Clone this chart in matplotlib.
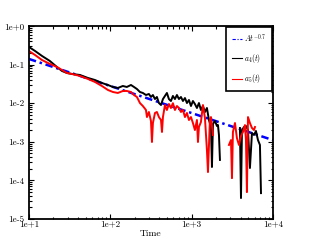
import numpy as np
import matplotlib
matplotlib.use("Agg")
import matplotlib.pyplot as plt
from matplotlib.ticker import FuncFormatter, LogLocator

plt.rcParams["font.family"] = ["cmr10", "DejaVu Serif"]
plt.rcParams["mathtext.fontset"] = "cm"
plt.rcParams["axes.formatter.use_mathtext"] = True

# ---- data ----
t4 = [10, 11.9, 14.5, 18.1, 22.1, 25.5, 29.3, 33.8, 42.4, 53.2, 64.8, 79, 93.7, 108, 124,
      143, 160, 180, 196, 213, 232, 252, 275, 299, 317, 335, 355, 375, 397, 421, 445, 471,
      498, 527, 558, 590, 625, 661, 700, 741, 784, 830, 878, 929, 984, 1040, 1100, 1165,
      1233, 1305, 1381, 1462, 1546, 1637, 1733, 1782, 1833, 1940, 2053, 2113, 2173, 2235,
      2300, 3936, 4055, 4169, 4416, 4667, 4943, 5224, 5534, 5861, 6194, 6561, 6934, 7145]
a4 = [.286, .225, .167, .124, .0866, .0683, .0606, .0571, .0538, .0450, .0399, .0334, .0296,
      .0263, .0248, .0279, .0263, .0296, .0263, .0233, .0195, .0184, .0163, .0173, .0145,
      .0163, .0128, .0145, .0101, .00898, .0128, .0154, .0184, .0128, .0114, .0154, .0128,
      .0163, .0128, .0145, .0114, .0136, .0101, .0121, .00846, .0114, .00953, .00751, .0101,
      .00667, .00846, .00592, .00751, .00367, .00242, .000223, .00290, .00346, .00257,
      .00272, .00150, .00034, np.nan, .00228, 3.5e-5, .00202, .00242, .00257, .00202,
      .00021, .00170, .00150, .00191, .00111, .00083, 4.7e-5]

t5 = [10, 11.9, 14.5, 18.1, 22.1, 25.5, 29.3, 33.8, 42.4, 53.2, 64.8, 79, 93.7, 108, 124,
      143, 160, 180, 196, 213, 232, 252, 275, 283, 299, 317, 326, 335, 355, 375, 397, 421,
      433, 445, 471, 498, 527, 558, 590, 625, 661, 700, 741, 784, 830, 878, 929, 984, 1040,
      1100, 1165, 1199, 1233, 1305, 1381, 1462, 1546, 1592, 1683, 1733, 1833, 2300, 2884,
      3055, 3141, 3228, 3420, 3614, 3828, 4055, 4285, 4540, 4667, 4797, 4943, 5224, 5534,
      5861, 6026]
a5 = [.225, .177, .131, .104, .0866, .0725, .0606, .0571, .0507, .0424, .0355, .0279, .0220,
      .0195, .0184, .0207, .0207, .0195, .0163, .0145, .0101, .00846, .00667, .00438, .00592,
      .00346, .00099, .00307, .00558, .00592, .00438, .00367, .00180, .00438, .00898, .00667,
      .00953, .00751, .0100, .00667, .00846, .00751, .00592, .00667, .00438, .00558, .00367,
      .00438, .00307, .00202, .00367, .00099, .00242, .00326, .00898, .00414, .00061,
      .000165, .00367, .00438, .00150, np.nan, .00083, .00111, .000115, .00180, .00307,
      .00125, .00083, .00141, .00180, .00272, .00111, 5.0e-5, .00438, .00307, .00228,
      .00202, .00242]

# fit A t^-0.7 (A ~ 0.7), end points
t_fit = [10, 10000]
a_fit = [0.140, 0.00111]

fig = plt.figure(figsize=(3.14, 2.47), dpi=100)
ax = fig.add_axes([0.092, 0.113, 0.777, 0.782])

ax.plot(t_fit, a_fit, color="blue", lw=1.8, dashes=(3, 1.5, 1, 1.5), label=r"$At^{-0.7}$")
ax.plot(t4, a4, color="black", lw=1.4, label=r"$a_4(t)$")
ax.plot(t5, a5, color="red", lw=1.4, label=r"$a_5(t)$")

ax.set_xscale("log"); ax.set_yscale("log")
ax.set_xlim(10, 1e4); ax.set_ylim(1e-5, 1)
fmt = FuncFormatter(lambda v, _: "1e%+d" % int(round(np.log10(v))))
ax.xaxis.set_major_formatter(fmt); ax.yaxis.set_major_formatter(fmt)
ax.xaxis.set_major_locator(LogLocator(base=10, numticks=10))
ax.yaxis.set_major_locator(LogLocator(base=10, numticks=10))
ax.tick_params(which="both", direction="in", top=True, right=True, labelsize=6.5, width=0.8)
ax.tick_params(which="major", length=3.5)
ax.tick_params(which="minor", length=1.8)
ax.tick_params(axis="x", pad=0.8)
for s in ax.spines.values():
    s.set_linewidth(1.3)
ax.set_xlabel("Time", fontsize=7, labelpad=0.5)

leg = ax.legend(loc="upper right", fontsize=5.5, handlelength=1.3, handletextpad=0.35,
                borderpad=0.7, labelspacing=0.95, fancybox=False, framealpha=1,
                borderaxespad=0.1)
leg.get_frame().set_edgecolor("black"); leg.get_frame().set_linewidth(1.2)
for ln in leg.get_lines():
    ln.set_linewidth(0.8)

fig.savefig("out.png", dpi=100)
